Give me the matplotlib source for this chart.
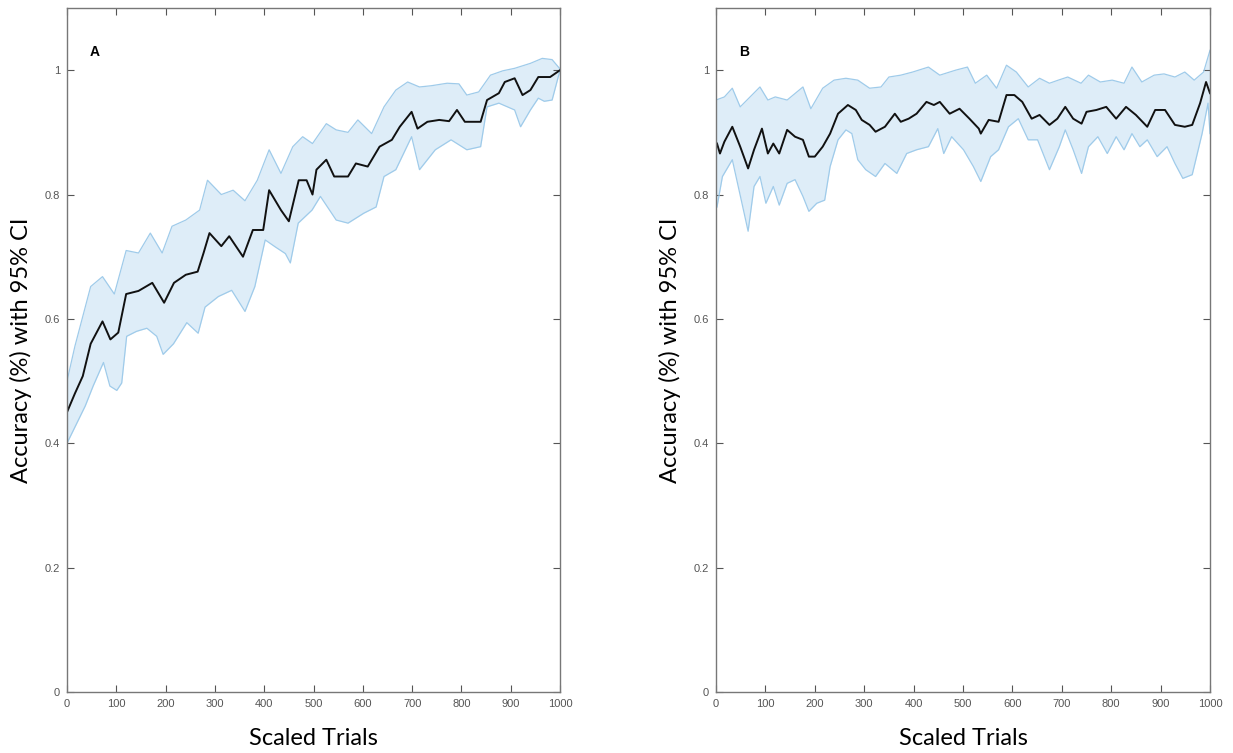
import numpy as np
import matplotlib.pyplot as plt

# panel A: mean accuracy and 95% CI bounds
a_mean_t = [0, 16, 32, 48, 72, 88, 104, 120, 145, 173, 197, 217, 241, 265, 277, 289, 313, 329, 357, 377,
            398, 410, 434, 450, 470, 486, 498, 506, 526, 542, 570, 586, 610, 634, 659, 675, 699, 711, 731,
            755, 775, 791, 807, 839, 852, 876, 888, 908, 924, 940, 956, 980, 1000]
a_mean = [0.45, 0.48, 0.508, 0.56, 0.596, 0.567, 0.578, 0.64, 0.645, 0.658, 0.626, 0.658, 0.671, 0.676, 0.706,
          0.738, 0.717, 0.733, 0.70, 0.743, 0.743, 0.807, 0.775, 0.757, 0.823, 0.823, 0.80, 0.84, 0.856, 0.829,
          0.829, 0.85, 0.845, 0.877, 0.888, 0.909, 0.933, 0.906, 0.917, 0.92, 0.918, 0.936, 0.917, 0.917, 0.952,
          0.963, 0.981, 0.987, 0.96, 0.968, 0.989, 0.989, 1.0]

a_up_t = [0, 16, 48, 72, 96, 120, 145, 169, 193, 213, 241, 269, 285, 313, 337, 361, 386, 410, 434, 458, 478,
          498, 526, 546, 570, 590, 618, 643, 667, 691, 715, 739, 771, 795, 811, 835, 859, 884, 908, 940, 964,
          984, 1000]
a_up = [0.50, 0.556, 0.652, 0.668, 0.64, 0.71, 0.706, 0.738, 0.706, 0.749, 0.759, 0.775, 0.823, 0.80, 0.807,
        0.79, 0.823, 0.872, 0.834, 0.877, 0.893, 0.882, 0.914, 0.904, 0.90, 0.92, 0.898, 0.941, 0.968, 0.981,
        0.973, 0.975, 0.979, 0.978, 0.96, 0.965, 0.992, 0.999, 1.003, 1.011, 1.019, 1.017, 1.002]

a_lo_t = [0, 37, 53, 74, 87, 101, 111, 121, 141, 162, 182, 195, 216, 243, 266, 280, 307, 334, 361, 381, 402,
          422, 443, 453, 469, 497, 514, 546, 570, 602, 627, 643, 667, 699, 715, 747, 779, 811, 839, 852, 876,
          908, 920, 940, 956, 968, 984, 1000]
a_lo = [0.40, 0.46, 0.492, 0.53, 0.492, 0.485, 0.497, 0.572, 0.58, 0.585, 0.572, 0.543, 0.56, 0.594, 0.577,
        0.619, 0.636, 0.646, 0.612, 0.652, 0.727, 0.716, 0.705, 0.69, 0.754, 0.775, 0.797, 0.759, 0.754, 0.77,
        0.78, 0.829, 0.84, 0.893, 0.84, 0.872, 0.888, 0.872, 0.877, 0.941, 0.947, 0.936, 0.909, 0.936, 0.955,
        0.95, 0.952, 1.0]

# panel B
b_mean_t = [2, 8, 17, 33, 49, 65, 77, 93, 105, 116, 128, 144, 160, 176, 188, 200, 216, 231, 247, 267, 283, 295,
            311, 323, 342, 362, 374, 390, 406, 426, 441, 453, 473, 493, 513, 532, 536, 552, 572, 588, 604, 620,
            639, 655, 675, 691, 707, 723, 740, 750, 770, 790, 810, 830, 850, 873, 889, 909, 929, 949, 964, 980,
            992, 1000]
b_mean = [0.882, 0.866, 0.885, 0.909, 0.877, 0.842, 0.872, 0.906, 0.866, 0.882, 0.866, 0.904, 0.893, 0.888,
          0.861, 0.861, 0.877, 0.898, 0.93, 0.944, 0.936, 0.92, 0.912, 0.901, 0.909, 0.93, 0.917, 0.922, 0.93,
          0.949, 0.944, 0.949, 0.93, 0.938, 0.922, 0.906, 0.898, 0.92, 0.917, 0.96, 0.96, 0.949, 0.922, 0.928,
          0.912, 0.922, 0.941, 0.922, 0.914, 0.933, 0.936, 0.941, 0.922, 0.941, 0.928, 0.909, 0.936, 0.936,
          0.912, 0.909, 0.912, 0.947, 0.981, 0.963]

b_up_t = [0, 17, 33, 49, 69, 89, 105, 120, 144, 176, 192, 216, 239, 263, 287, 311, 334, 350, 374, 398, 430,
          453, 485, 509, 525, 548, 568, 588, 608, 632, 655, 675, 693, 712, 739, 754, 778, 802, 826, 842, 862,
          887, 907, 929, 949, 968, 987, 1000]
b_up = [0.952, 0.957, 0.971, 0.941, 0.957, 0.973, 0.952, 0.957, 0.952, 0.973, 0.938, 0.971, 0.984, 0.987,
        0.984, 0.971, 0.973, 0.989, 0.992, 0.997, 1.005, 0.992, 1.0, 1.005, 0.979, 0.992, 0.971, 1.008, 0.997,
        0.973, 0.987, 0.979, 0.984, 0.989, 0.979, 0.992, 0.981, 0.984, 0.979, 1.005, 0.981, 0.992, 0.994,
        0.989, 0.997, 0.984, 0.997, 1.032]

b_lo_t = [2, 13, 33, 45, 57, 65, 77, 89, 101, 116, 128, 144, 160, 176, 188, 204, 220, 231, 247, 263, 275, 287,
          303, 323, 342, 366, 386, 406, 430, 449, 461, 477, 501, 521, 536, 556, 572, 592, 612, 632, 651, 675,
          695, 707, 723, 740, 754, 773, 792, 810, 826, 842, 858, 873, 893, 913, 929, 945, 964, 984, 996, 1000]
b_lo = [0.78, 0.829, 0.856, 0.813, 0.77, 0.741, 0.813, 0.829, 0.786, 0.813, 0.783, 0.818, 0.824, 0.797, 0.773,
        0.786, 0.791, 0.845, 0.888, 0.904, 0.898, 0.856, 0.84, 0.829, 0.85, 0.834, 0.866, 0.872, 0.877, 0.906,
        0.866, 0.893, 0.872, 0.845, 0.821, 0.861, 0.872, 0.909, 0.922, 0.888, 0.888, 0.84, 0.877, 0.904, 0.872,
        0.834, 0.877, 0.893, 0.866, 0.893, 0.872, 0.898, 0.877, 0.888, 0.861, 0.877, 0.85, 0.826, 0.832, 0.898,
        0.947, 0.898]

xticks = [0, 100, 200, 300, 400, 500, 600, 700, 800, 900, 1000]
yticks = [0, 0.2, 0.4, 0.6, 0.8, 1]
ytick_labels = ['0', '0.2', '0.4', '0.6', '0.8', '1']

fill_col = '#deedf8'
edge_col = '#9fcbea'

fig = plt.figure(figsize=(12.33, 7.53), dpi=100)
ax_a = fig.add_axes([67 / 1233, 1 - 692 / 753, 493 / 1233, 684 / 753])
ax_b = fig.add_axes([716 / 1233, 1 - 692 / 753, 494 / 1233, 684 / 753])

panels = [
    (ax_a, 'A', a_mean_t, a_mean, a_up_t, a_up, a_lo_t, a_lo),
    (ax_b, 'B', b_mean_t, b_mean, b_up_t, b_up, b_lo_t, b_lo),
]

for ax, letter, mt, m, ut, u, lt, lo in panels:
    # common grid only for the shaded band between the two bounds
    grid = np.union1d(ut, lt)
    up_g = np.interp(grid, ut, u)
    lo_g = np.interp(grid, lt, lo)
    ax.fill_between(grid, lo_g, up_g, color=fill_col, lw=0)
    ax.plot(ut, u, color=edge_col, lw=0.9)
    ax.plot(lt, lo, color=edge_col, lw=0.9)
    ax.plot(mt, m, color='#111111', lw=1.4)

    ax.set_xlim(0, 1000)
    ax.set_ylim(0, 1.1)
    ax.set_xticks(xticks)
    ax.set_yticks(yticks)
    ax.set_yticklabels(ytick_labels)
    ax.tick_params(direction='in', length=5, width=0.8, colors='#555555', labelsize=8,
                   top=True, right=True, labelcolor='#555555', pad=5)
    for lab in ax.get_xticklabels() + ax.get_yticklabels():
        lab.set_family('Liberation Sans')
    for s in ax.spines.values():
        s.set_color('#777777')
        s.set_linewidth(1.0)
    ax.set_ylabel('Accuracy (%) with 95% CI', fontsize=17, family='Lato')
    ax.yaxis.set_label_coords(-0.071, 0.5)
    ax.set_xlabel('Scaled Trials', fontsize=17, family='Lato')
    ax.xaxis.set_label_coords(0.5, -0.053)
    ax.text(57, 1.03, letter, fontsize=10, fontweight='bold', family='Liberation Sans',
            ha='center', va='center')

fig.savefig('out.png', dpi=100, facecolor='white')
